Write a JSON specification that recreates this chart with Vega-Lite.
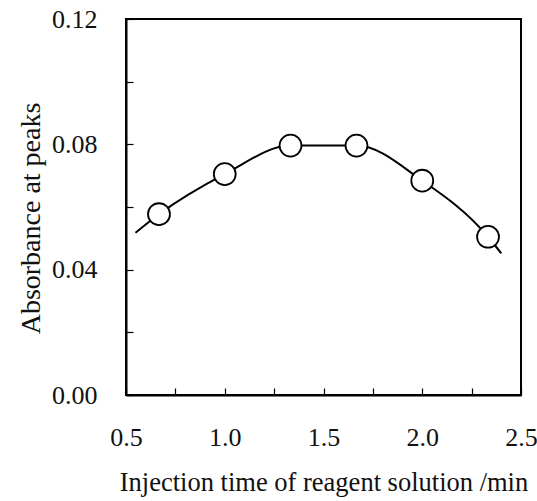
{
  "$schema": "https://vega.github.io/schema/vega-lite/v6.json",
  "autosize": {"type": "none"},
  "padding": {"left": 126, "top": 19, "right": 16, "bottom": 106},
  "width": 395,
  "height": 376,
  "background": "white",
  "config": {
    "view": {"stroke": "black", "strokeWidth": 2},
    "font": "Liberation Serif",
    "axis": {
      "domainColor": "black",
      "domainWidth": 2,
      "tickColor": "black",
      "tickWidth": 1.2,
      "tickSize": -7,
      "grid": false,
      "labelFont": "Liberation Serif",
      "labelFontSize": 26,
      "labelColor": "#111",
      "titleFont": "Liberation Serif",
      "titleFontSize": 28,
      "titleFontWeight": "normal",
      "titleColor": "#111"
    }
  },
  "datasets": {
    "curve": [
      {"t": 0.548, "a": 0.0518},
      {"t": 0.667, "a": 0.0577},
      {"t": 1.0, "a": 0.0705},
      {"t": 1.333, "a": 0.0796},
      {"t": 1.667, "a": 0.0796},
      {"t": 2.0, "a": 0.0684},
      {"t": 2.333, "a": 0.0505},
      {"t": 2.40, "a": 0.0452}
    ],
    "points": [
      {"t": 0.667, "a": 0.0577},
      {"t": 1.0, "a": 0.0705},
      {"t": 1.333, "a": 0.0796},
      {"t": 1.667, "a": 0.0796},
      {"t": 2.0, "a": 0.0684},
      {"t": 2.333, "a": 0.0505}
    ]
  },
  "layer": [
    {
      "data": {"name": "curve"},
      "mark": {"type": "line", "color": "black", "strokeWidth": 2, "interpolate": "monotone"},
      "encoding": {
        "x": {
          "field": "t", "type": "quantitative",
          "scale": {"domain": [0.5, 2.5], "nice": false, "zero": false},
          "axis": {
            "values": [0.5, 0.75, 1.0, 1.25, 1.5, 1.75, 2.0, 2.25, 2.5],
            "labelExpr": "round(datum.value*4)%2==0 ? format(datum.value,'.1f') : ''",
            "labelPadding": 36,
            "labelFlush": false,
            "title": "Injection time of reagent solution /min",
            "titleFontSize": 26.5,
            "titlePadding": 19
          }
        },
        "y": {
          "field": "a", "type": "quantitative",
          "scale": {"domain": [0, 0.12], "nice": false},
          "axis": {
            "values": [0, 0.02, 0.04, 0.06, 0.08, 0.1, 0.12],
            "labelExpr": "round(datum.value*100)%4==0 ? format(datum.value,'.2f') : ''",
            "labelPadding": 36,
            "labelFlush": false,
            "title": "Absorbance at peaks",
            "titlePadding": 6,
            "titleY": 199
          }
        }
      }
    },
    {
      "data": {"name": "points"},
      "mark": {"type": "point", "shape": "circle", "filled": true, "fill": "white", "stroke": "black", "strokeWidth": 1.8, "size": 480, "opacity": 1},
      "encoding": {
        "x": {"field": "t", "type": "quantitative"},
        "y": {"field": "a", "type": "quantitative"}
      }
    }
  ]
}
